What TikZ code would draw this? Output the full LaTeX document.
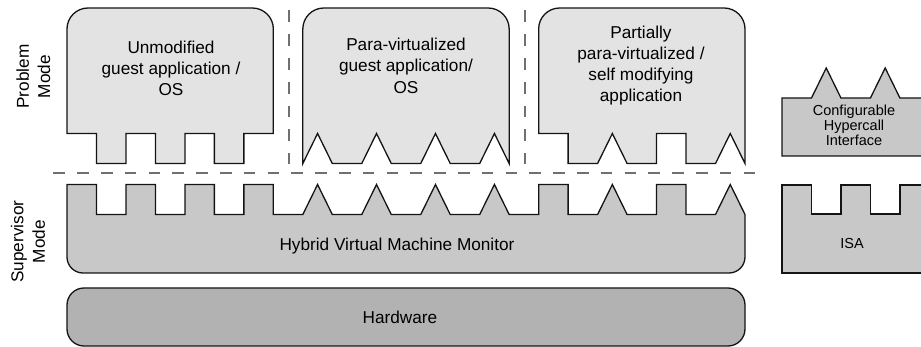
\documentclass[tikz,border=0pt]{standalone}
\usepackage{fontspec}
\setmainfont{Liberation Sans}
\definecolor{guestgray}{HTML}{E3E3E3}
\definecolor{vmmgray}{HTML}{C8C8C8}
\definecolor{hwgray}{HTML}{B2B2B2}
\definecolor{dashgray}{HTML}{707070}
\begin{document}
\begin{tikzpicture}[x=1pt, y=-1pt,
  outline/.style={draw=black!92, line width=1.3pt, line join=miter},
  guestbox/.style={outline, fill=guestgray},
  vmmbox/.style={outline, fill=vmmgray},
  hwbox/.style={outline, fill=hwgray},
  sep/.style={draw=dashgray, line width=2pt, dash pattern=on 11.7pt off 12.1pt},
  txt/.style={font=\fontsize{17.2}{21.3}\selectfont, align=center, inner sep=0pt},
  smalltxt/.style={font=\fontsize{14.5}{15}\selectfont, align=center, inner sep=0pt}]
\useasboundingbox (0,0) rectangle (921,347);

% layers on a common grid of 29.478pt cells starting at x = 67pt
\begin{scope}[xshift=67pt, x=29.478pt]
  % unmodified guest: rectangular tabs
  \draw[guestbox] (0,133.5) -- (1,133.5)
    -- (1,163.5) -- (2,163.5) -- (2,133.5) -- (3,133.5)
    -- (3,163.5) -- (4,163.5) -- (4,133.5) -- (5,133.5)
    -- (5,163.5) -- (6,163.5) -- (6,133.5) -- (7,133.5)
    -- (7,29) arc[start angle=0, end angle=90, radius=21pt]
    -- ([xshift=21pt]0,8) arc[start angle=90, end angle=180, radius=21pt]
    -- cycle;
  % para-virtualized guest: triangular notches
  \draw[guestbox] (8,163.5)
    -- (8.5,133.5) -- (9,163.5) -- (10,163.5)
    -- (10.5,133.5) -- (11,163.5) -- (12,163.5)
    -- (12.5,133.5) -- (13,163.5) -- (14,163.5)
    -- (14.5,133.5) -- (15,163.5)
    -- (15,29) arc[start angle=0, end angle=90, radius=21pt]
    -- ([xshift=21pt]8,8) arc[start angle=90, end angle=180, radius=21pt]
    -- cycle;
  % partially para-virtualized guest: mixed profile
  \draw[guestbox] (16,133.5) -- (17,133.5)
    -- (17,163.5) -- (18,163.5)
    -- (18.5,133.5) -- (19,163.5) -- (20,163.5)
    -- (20,133.5) -- (21,133.5) -- (21,163.5) -- (22,163.5)
    -- (22.5,133.5) -- (23,163.5)
    -- (23,29) arc[start angle=0, end angle=90, radius=21pt]
    -- ([xshift=21pt]16,8) arc[start angle=90, end angle=180, radius=21pt]
    -- cycle;

  % hybrid virtual machine monitor
  \draw[vmmbox] (0,184.5) -- (1,184.5)
    -- (1,214.5) -- (2,214.5) -- (2,184.5) -- (3,184.5)
    -- (3,214.5) -- (4,214.5) -- (4,184.5) -- (5,184.5)
    -- (5,214.5) -- (6,214.5) -- (6,184.5) -- (7,184.5)
    -- (7,214.5) -- (8,214.5)
    -- (8.5,184.5) -- (9,214.5) -- (10,214.5)
    -- (10.5,184.5) -- (11,214.5) -- (12,214.5)
    -- (12.5,184.5) -- (13,214.5) -- (14,214.5)
    -- (14.5,184.5) -- (15,214.5) -- (16,214.5)
    -- (16,184.5) -- (17,184.5) -- (17,214.5) -- (18,214.5)
    -- (18.5,184.5) -- (19,214.5) -- (20,214.5)
    -- (20,184.5) -- (21,184.5) -- (21,214.5) -- (22,214.5)
    -- (22.5,184.5) -- (23,214.5)
    -- (23,257) arc[start angle=0, end angle=-90, radius=16pt]
    -- ([xshift=16pt]0,273) arc[start angle=270, end angle=180, radius=16pt]
    -- cycle;

  % hardware
  \draw[hwbox, rounded corners=17pt] (0,288) rectangle (23,346);
\end{scope}

% configurable hypercall interface and ISA
\begin{scope}[xshift=782pt, x=29.478pt]
  \draw[vmmbox] (0,156) -- (0,98) -- (1,98)
    -- (1.5,68) -- (2,98) -- (3,98)
    -- (3.5,68) -- (4,98) -- (5.6,98) -- (5.6,156) -- cycle;
  \draw[vmmbox] (0,273) -- (0,185) -- (1,185)
    -- (1,214) -- (2,214) -- (2,185) -- (3,185)
    -- (3,214) -- (4,214) -- (4,185) -- (5.6,185) -- (5.6,273) -- cycle;
\end{scope}

% mode separators
\coordinate (v1top) at (288.5,10.5);
\coordinate (v1bot) at (288.5,164);
\coordinate (v2top) at (525,10.5);
\coordinate (v2bot) at (525,164);
\coordinate (hleft) at (53.3,173.5);
\coordinate (hright) at (760,173.5);
\draw[sep] (v1top) -- (v1bot);
\draw[sep] (v2top) -- (v2bot);
\draw[sep] (hleft) -- (hright);

% texts
\node[txt] (g1) at (171,68.4) {Unmodified\\guest application /\\OS};
\node[txt] (g2) at (406,65.6) {Para-virtualized\\guest application/\\OS};
\node[txt] (g3) at (641,65.6) {Partially\\para-virtualized /\\self modifying\\application};
\node[txt] (vmm) at (397,246) {Hybrid Virtual Machine Monitor};
\node[txt] (hw) at (400,317.5) {Hardware};
\node[smalltxt] (chi) at (854,125) {Configurable\\Hypercall\\Interface};
\node[smalltxt] (isa) at (852,244) {ISA};
\node[txt, rotate=90] (pm) at (33.4,76.5) {Problem\\Mode};
\node[txt, rotate=90] (sm) at (28,241.5) {Supervisor\\Mode};
\end{tikzpicture}
\end{document}
